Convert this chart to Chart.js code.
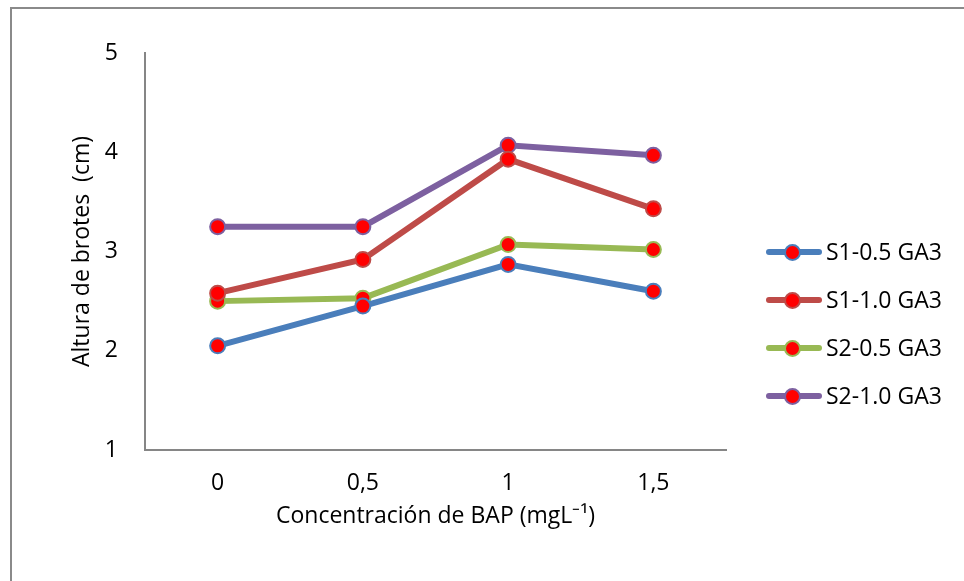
<!DOCTYPE html>
<html>
<head>
<meta charset="utf-8">
<script src="https://cdn.jsdelivr.net/npm/chart.js@4/dist/chart.umd.min.js"></script>
<style>
  body { margin: 0; background: #fff; font-family: "Open Sans", sans-serif; }
  #wrap { position: relative; width: 964px; height: 581px; overflow: hidden; }
  #frame { position: absolute; left: 10px; top: 7px; width: 1000px; height: 600px;
           border-top: 2px solid #8a8a8a; border-left: 2px solid #8a8a8a; }
  #chart { position: absolute; left: 0; top: 0; }
  #legend { position: absolute; left: 766px; top: 0; }
  .item { position: absolute; left: 0; width: 200px; height: 30px; }
  .item .ln { position: absolute; left: 0; top: 12px; width: 56px; height: 6px; border-radius: 3px; }
  .item .dot { position: absolute; left: 18px; top: 7px; width: 13px; height: 13px; border-radius: 50%;
               background: #ff0000; border: 2px solid; }
  .item .txt { position: absolute; left: 60px; top: -2px; font-size: 23px; color: #000; white-space: nowrap; }
</style>
</head>
<body>
<div id="wrap">
  <div id="frame"></div>
  <canvas id="chart" width="964" height="581"></canvas>
  <div id="legend"></div>
</div>
<script>
const categories = ["0", "0,5", "1", "1,5"];
const seriesNames = ["S1-0.5 GA3", "S1-1.0 GA3", "S2-0.5 GA3", "S2-1.0 GA3"];
const s1Low = [2.05, 2.45, 2.87, 2.60];
const s1High = [2.58, 2.92, 3.93, 3.43];
const s2Low = [2.50, 2.53, 3.07, 3.02];
const s2High = [3.25, 3.25, 4.07, 3.97];
const yTicks = [1, 2, 3, 4, 5];
const colors = ["#4a7ebb", "#be4b48", "#98b954", "#7d60a0"];

const allValues = [s1Low, s1High, s2Low, s2High];

function makeDataset(i) {
  return {
    label: seriesNames[i],
    data: allValues[i],
    borderColor: colors[i],
    borderWidth: 6,
    pointRadius: 7.5,
    pointHoverRadius: 7.5,
    pointBackgroundColor: "#ff0000",
    pointBorderColor: colors[i],
    pointBorderWidth: 2,
    tension: 0,
  };
}

const font = { family: "'Open Sans', sans-serif", size: 23 };

new Chart(document.getElementById("chart"), {
  type: "line",
  data: {
    labels: categories,
    datasets: allValues.map((_, i) => makeDataset(i)),
  },
  options: {
    responsive: false,
    animation: false,
    layout: { padding: { left: 57, top: 53, right: 238, bottom: 41 } },
    plugins: { legend: { display: false }, tooltip: { enabled: false } },
    scales: {
      x: {
        offset: true,
        grid: { display: false, drawTicks: false },
        border: { display: true, color: "#868686", width: 2 },
        ticks: { color: "#000", font, padding: 20, maxRotation: 0 },
        title: {
          display: true,
          text: "Concentración de BAP (mgL⁻¹)",
          color: "#000",
          font,
          padding: { top: 0, bottom: 10 },
        },
        afterFit: (scale) => { scale.height = 90; },
      },
      y: {
        min: 1,
        max: 5,
        afterBuildTicks: (scale) => { scale.ticks = yTicks.map((v) => ({ value: v })); },
        grid: { display: false, drawTicks: false },
        border: { display: true, color: "#868686", width: 2 },
        ticks: { color: "#000", font, padding: 27 },
        title: {
          display: true,
          text: "Altura de brotes  (cm)",
          color: "#000",
          font,
          padding: { top: 12, bottom: 0 },
        },
        afterFit: (scale) => { scale.width = 88; },
      },
    },
  },
});

const legendTops = [252, 300, 348, 396];
const legend = document.getElementById("legend");
legend.innerHTML = seriesNames.map((name, i) => `
  <div class="item" style="top:${legendTops[i] - 15}px">
    <div class="ln" style="background:${colors[i]}"></div>
    <div class="dot" style="border-color:${colors[i]}"></div>
    <div class="txt">${name}</div>
  </div>
`).join("");
</script>
</body>
</html>
